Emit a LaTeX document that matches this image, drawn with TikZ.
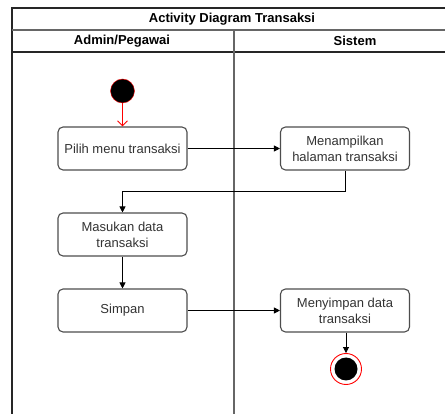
\documentclass[tikz,border=0pt]{standalone}
\usepackage{fontspec}
\setmainfont{Liberation Sans}
\usetikzlibrary{arrows.meta}
\definecolor{tinta}{HTML}{333333}
\definecolor{borda}{HTML}{4D4D4D}

\begin{document}
\begin{tikzpicture}[x=1pt, y=-1pt, > = {Triangle[length=6pt,width=6pt]}, font=\fontsize{13}{16}\selectfont]
                \tikzstyle{atividade}=[rectangle, rounded corners=5pt, draw=borda, line width=1.1pt, text=tinta, align=center, minimum width=129pt, minimum height=43pt, inner sep=2pt]
                \tikzstyle{inicio}=[circle, draw=red, fill=black, inner sep=0pt, minimum size=24pt]
                \tikzstyle{fim}=[circle, draw=red, line width=0.9pt, fill=white, inner sep=0pt, minimum size=31pt,
                    path picture={\fill[black] (path picture bounding box.center) circle (11.5pt);}]
                \tikzstyle{raia}=[draw=black!85, line width=1.2pt]
                \tikzstyle{seta}=[->, line width=0.9pt]

                \useasboundingbox (0,0) rectangle (445,414);
                \clip (0,0) rectangle (445,414);

                    % Raias
                    \draw[raia, fill=white] (12,8) rectangle (470,440);
                    \draw[raia, draw=black!60] (12,30) -- (470,30);
                    \draw[raia] (12,52) -- (470,52);
                    \draw[raia, draw=black!60] (234,30) -- (234,440);
                    \node[font=\fontsize{13}{16}\selectfont\bfseries] (titulo) at (232,19) {Activity Diagram Transaksi};
                    \node[font=\fontsize{13}{16}\selectfont\bfseries] (admin) at (122,41) {Admin/Pegawai};
                    \node[font=\fontsize{13}{16}\selectfont\bfseries] (sistem) at (355,41) {Sistem};

                    % Nós
                    \node[inicio] (ini) at (122.5,91) {};
                    \node[atividade] (pilih) at (122.5,148.5) {Pilih menu transaksi};
                    \node[atividade] (tampil) at (345,148.5) {Menampilkan\\halaman transaksi};
                    \node[atividade] (masukan) at (122.5,234.5) {Masukan data\\transaksi};
                    \node[atividade] (simpan) at (122.5,310.5) {Simpan};
                    \node[atividade] (menyimpan) at (345,310.5) {Menyimpan data\\transaksi};
                    \node[fim] (fim) at (346,369) {};

                    % Arestas
                    \draw[->, draw=red, line width=0.9pt, >={Straight Barb[length=5pt,width=10pt]}] (ini) -- (pilih);
                    \draw[seta] (pilih) -- (tampil);
                    \draw[seta] (tampil.south) -- ++(0,21) -| (masukan.north);
                    \draw[seta] (masukan) -- (simpan);
                    \draw[seta] (simpan) -- (menyimpan);
                    \draw[seta] (menyimpan.south -| fim) -- (fim);
            \end{tikzpicture}
\end{document}
